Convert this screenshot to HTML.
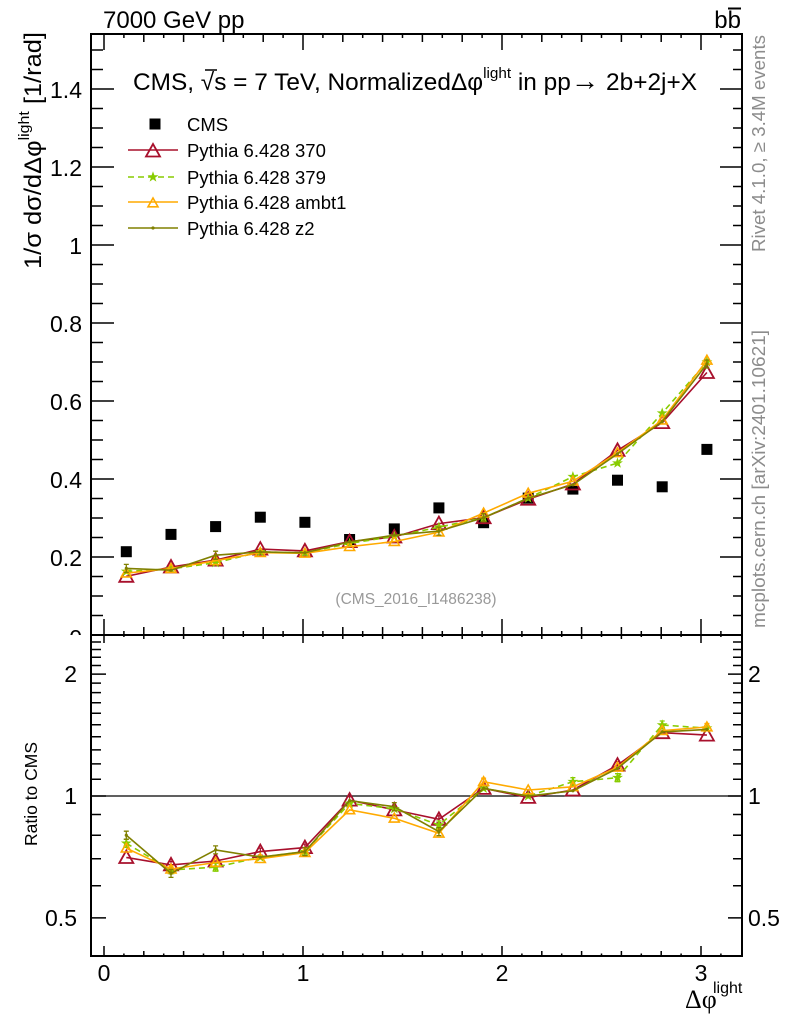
<!DOCTYPE html>
<html><head><meta charset="utf-8"><style>
html,body{margin:0;padding:0;background:#fff;}
svg{display:block;font-family:"Liberation Sans",Arial,sans-serif;}
</style></head><body>
<svg width="786" height="1024" viewBox="0 0 786 1024" xmlns="http://www.w3.org/2000/svg">
<defs>
<clipPath id="cm"><rect x="0" y="0" width="786" height="635"/></clipPath>
<g id="xt" stroke="#000" stroke-width="1.5" fill="none">
<path d="M104 0V-16M303 0V-16M502 0V-16M701 0V-16"/>
<path d="M143.8 0V-8M183.6 0V-8M223.4 0V-8M263.2 0V-8M342.8 0V-8M382.6 0V-8M422.4 0V-8M462.2 0V-8M541.8 0V-8M581.6 0V-8M621.4 0V-8M661.2 0V-8"/>
<path d="M123.9 0V-4M163.7 0V-4M203.5 0V-4M243.3 0V-4M283.1 0V-4M322.9 0V-4M362.7 0V-4M402.5 0V-4M442.3 0V-4M482.1 0V-4M521.9 0V-4M561.7 0V-4M601.5 0V-4M641.3 0V-4M681.1 0V-4M720.9 0V-4"/>
</g>
<path id="rt" d="M-7,5.5L7,5.5L0,-7Z" fill="none" stroke="#a8102c" stroke-width="1.8"/>
<path id="ot" d="M-5,3.8L5,3.8L0,-5Z" fill="none" stroke="#ffaa00" stroke-width="1.6"/>
<path id="gs" d="M0,-4.5L1.06,-1.46L4.28,-1.39L1.71,0.56L2.65,3.64L0,1.8L-2.65,3.64L-1.71,0.56L-4.28,-1.39L-1.06,-1.46Z" fill="#88cc00" stroke="#88cc00" stroke-width="0.8"/>
<circle id="od" r="1.6" fill="#808000"/>
<rect id="sq" x="-5.5" y="-5.5" width="11" height="11" fill="#000"/>
<path id="eg" d="M0,-4V4M-2.5,-4H2.5M-2.5,4H2.5" stroke="#88cc00" stroke-width="1.3" fill="none"/>
<path id="eo" d="M0,-4V4M-2.5,-4H2.5M-2.5,4H2.5" stroke="#808000" stroke-width="1.3" fill="none"/>
<path id="er" d="M0,-3.5V3.5M-2.5,-3.5H2.5M-2.5,3.5H2.5" stroke="#a8102c" stroke-width="1.3" fill="none"/>
<path id="eor" d="M0,-3.5V3.5M-2.5,-3.5H2.5M-2.5,3.5H2.5" stroke="#ffaa00" stroke-width="1.3" fill="none"/>
</defs>

<!-- top labels -->
<text x="103" y="28" font-size="24">7000 GeV pp</text>
<text x="741" y="28" font-size="24" text-anchor="end">bb</text>
<line x1="728" y1="8.5" x2="741" y2="8.5" stroke="#000" stroke-width="2"/>

<!-- y axis label -->
<text transform="translate(41,269) rotate(-90)" font-size="24" textLength="237" lengthAdjust="spacingAndGlyphs">1/σ dσ/dΔφ<tspan dy="-12" font-size="15">light</tspan><tspan dy="12"> [1/rad]</tspan></text>

<!-- right side texts -->
<text transform="translate(765,252) rotate(-90)" font-size="18.5" fill="#8c8c8c" textLength="217" lengthAdjust="spacingAndGlyphs">Rivet 4.1.0, ≥ 3.4M events</text>
<text transform="translate(765,628) rotate(-90)" font-size="18.5" fill="#8c8c8c" textLength="298" lengthAdjust="spacingAndGlyphs">mcplots.cern.ch [arXiv:2401.10621]</text>

<!-- main frame -->
<rect x="91" y="34" width="651" height="601" fill="none" stroke="#000" stroke-width="2"/>
<rect x="91" y="635" width="651" height="321" fill="none" stroke="#000" stroke-width="2"/>

<!-- x ticks -->
<use href="#xt" transform="translate(0,635)"/>
<use href="#xt" transform="translate(0,34) scale(1,-1)"/>
<use href="#xt" transform="translate(0,635) scale(1,-0.5)"/>
<use href="#xt" transform="translate(0,956) scale(1,0.625)"/>

<!-- main y ticks -->
<g stroke="#000" stroke-width="1.5" fill="none">
<path d="M91 635H114M91 557H114M91 479H114M91 401H114M91 323H114M91 245H114M91 167H114M91 89H114"/>
<path d="M91 615.5H103M91 596H103M91 576.5H103M91 537.5H103M91 518H103M91 498.5H103M91 459.5H103M91 440H103M91 420.5H103M91 381.5H103M91 362H103M91 342.5H103M91 303.5H103M91 284H103M91 264.5H103M91 225.5H103M91 206H103M91 186.5H103M91 147.5H103M91 128H103M91 108.5H103M91 69.5H103M91 50H103"/>
<path d="M742 635H720M742 557H720M742 479H720M742 401H720M742 323H720M742 245H720M742 167H720M742 89H720"/>
<path d="M742 615.5H733M742 596H733M742 576.5H733M742 537.5H733M742 518H733M742 498.5H733M742 459.5H733M742 440H733M742 420.5H733M742 381.5H733M742 362H733M742 342.5H733M742 303.5H733M742 284H733M742 264.5H733M742 225.5H733M742 206H733M742 186.5H733M742 147.5H733M742 128H733M742 108.5H733M742 69.5H733M742 50H733"/>
<!-- ratio y ticks -->
<path d="M91 917.9H106M91 796H106M91 674.1H106"/>
<path d="M91 885.8H101M91 858.7H101M91 835.2H101M91 814.5H101M91 779.2H101M91 763.9H101M91 749.9H101M91 736.8H101M91 724.7H101M91 713.3H101M91 702.7H101M91 692.6H101M91 683.1H101M91 665.5H101M91 657.3H101M91 649.5H101M91 642H101"/>
<path d="M742 917.9H728M742 796H728M742 674.1H728"/>
<path d="M742 885.8H733M742 858.7H733M742 835.2H733M742 814.5H733M742 779.2H733M742 763.9H733M742 749.9H733M742 736.8H733M742 724.7H733M742 713.3H733M742 702.7H733M742 692.6H733M742 683.1H733M742 665.5H733M742 657.3H733M742 649.5H733M742 642H733"/>
</g>
<line x1="91" y1="796" x2="742" y2="796" stroke="#000" stroke-width="1.3"/>

<!-- main y labels -->
<g font-size="23" text-anchor="end">
<text x="82" y="98">1.4</text>
<text x="82" y="176">1.2</text>
<text x="82" y="254">1</text>
<text x="82" y="332">0.8</text>
<text x="82" y="410">0.6</text>
<text x="82" y="488">0.4</text>
<text x="82" y="566">0.2</text>
<text x="82" y="646" clip-path="url(#cm)">0</text>
<!-- ratio labels -->
<text x="77" y="682">2</text>
<text x="77" y="804">1</text>
<text x="77" y="926">0.5</text>
</g>
<g font-size="23">
<text x="748" y="682">2</text>
<text x="748" y="804">1</text>
<text x="748" y="926">0.5</text>
</g>
<!-- x labels -->
<g font-size="23" text-anchor="middle">
<text x="104" y="981">0</text>
<text x="303" y="981">1</text>
<text x="502" y="981">2</text>
<text x="701" y="981">3</text>
</g>
<text x="685" y="1008" font-size="26" font-family="Liberation Serif, serif">Δφ</text>
<text x="713" y="993" font-size="16">light</text>

<text transform="translate(37,794) rotate(-90)" font-size="17.5" text-anchor="middle">Ratio to CMS</text>

<!-- title -->
<text x="133" y="90" font-size="24" textLength="564" lengthAdjust="spacingAndGlyphs">CMS, √s = 7 TeV, NormalizedΔφ<tspan dy="-12" font-size="15">light</tspan><tspan dy="12"> in pp</tspan><tspan font-size="28">→</tspan><tspan>  2b+2j+X</tspan></text>
<line x1="205" y1="70" x2="217" y2="70" stroke="#000" stroke-width="1.5"/>

<text x="416" y="604" font-size="15.5" fill="#999" text-anchor="middle">(CMS_2016_I1486238)</text>

<!-- legend -->
<use href="#sq" x="155" y="124"/>
<text x="187" y="131" font-size="18.5">CMS</text>
<line x1="128" y1="150" x2="178" y2="150" stroke="#a8102c" stroke-width="1.6"/>
<use href="#rt" x="153" y="151"/>
<text x="187" y="157" font-size="18.5">Pythia 6.428 370</text>
<line x1="128" y1="177" x2="178" y2="177" stroke="#88cc00" stroke-width="1.6" stroke-dasharray="6,4"/>
<use href="#gs" x="153" y="177"/>
<text x="187" y="184" font-size="18.5">Pythia 6.428 379</text>
<line x1="128" y1="202" x2="178" y2="202" stroke="#ffaa00" stroke-width="1.6"/>
<use href="#ot" x="153" y="203"/>
<text x="187" y="209" font-size="18.5">Pythia 6.428 ambt1</text>
<line x1="128" y1="228" x2="178" y2="228" stroke="#808000" stroke-width="1.6"/>
<use href="#od" x="153" y="228"/>
<text x="187" y="235" font-size="18.5">Pythia 6.428 z2</text>

<!-- CMS data -->
<g>
<use href="#sq" x="126.3" y="551.7"/><use href="#sq" x="171" y="534.4"/><use href="#sq" x="215.6" y="526.6"/><use href="#sq" x="260.3" y="517.2"/><use href="#sq" x="304.9" y="522.3"/><use href="#sq" x="349.6" y="539.5"/><use href="#sq" x="394.3" y="528.9"/><use href="#sq" x="438.9" y="507.9"/><use href="#sq" x="483.6" y="522.7"/><use href="#sq" x="528.2" y="498.1"/><use href="#sq" x="572.9" y="489.1"/><use href="#sq" x="617.5" y="480.2"/><use href="#sq" x="662.2" y="486.8"/><use href="#sq" x="706.9" y="449.4"/>
</g>

<!-- MAIN: red 370 -->
<polyline fill="none" stroke="#a8102c" stroke-width="1.6" points="126.3,576.3 171,567 215.6,560.1 260.3,549.1 304.9,550.9 349.6,541.6 394.3,537 438.9,523.6 483.6,517.7 528.2,499.2 572.9,484 617.5,450.4 662.2,422.6 706.9,372.5"/>
<use href="#rt" x="126.3" y="576.3"/><use href="#rt" x="171" y="567"/><use href="#rt" x="215.6" y="560.1"/><use href="#rt" x="260.3" y="549.1"/><use href="#rt" x="304.9" y="550.9"/><use href="#rt" x="349.6" y="541.6"/><use href="#rt" x="394.3" y="537"/><use href="#rt" x="438.9" y="523.6"/><use href="#rt" x="483.6" y="517.7"/><use href="#rt" x="528.2" y="499.2"/><use href="#rt" x="572.9" y="484"/><use href="#rt" x="617.5" y="450.4"/><use href="#rt" x="662.2" y="422.6"/><use href="#rt" x="706.9" y="372.5"/>
<!-- green 379 -->
<polyline fill="none" stroke="#88cc00" stroke-width="1.6" stroke-dasharray="6,4" points="126.3,571.4 171,568.9 215.6,562.7 260.3,551.9 304.9,552.8 349.6,543.4 394.3,536.3 438.9,527.2 483.6,517.7 528.2,498.1 572.9,476.7 617.5,463.1 662.2,413.1 706.9,362.1"/>
<use href="#gs" x="126.3" y="571.4"/><use href="#gs" x="171" y="568.9"/><use href="#gs" x="215.6" y="562.7"/><use href="#gs" x="260.3" y="551.9"/><use href="#gs" x="304.9" y="552.8"/><use href="#gs" x="349.6" y="543.4"/><use href="#gs" x="394.3" y="536.3"/><use href="#gs" x="438.9" y="527.2"/><use href="#gs" x="483.6" y="517.7"/><use href="#gs" x="528.2" y="498.1"/><use href="#gs" x="572.9" y="476.7"/><use href="#gs" x="617.5" y="463.1"/><use href="#gs" x="662.2" y="413.1"/><use href="#gs" x="706.9" y="362.1"/>
<!-- orange ambt1 -->
<polyline fill="none" stroke="#ffaa00" stroke-width="1.6" points="126.3,573.1 171,568.6 215.6,560.7 260.3,552.6 304.9,553.3 349.6,546.7 394.3,541.6 438.9,532.1 483.6,513.1 528.2,493.3 572.9,481.3 617.5,452.8 662.2,420.1 706.9,360.3"/>
<use href="#ot" x="126.3" y="573.1"/><use href="#ot" x="171" y="568.6"/><use href="#ot" x="215.6" y="560.7"/><use href="#ot" x="260.3" y="552.6"/><use href="#ot" x="304.9" y="553.3"/><use href="#ot" x="349.6" y="546.7"/><use href="#ot" x="394.3" y="541.6"/><use href="#ot" x="438.9" y="532.1"/><use href="#ot" x="483.6" y="513.1"/><use href="#ot" x="528.2" y="493.3"/><use href="#ot" x="572.9" y="481.3"/><use href="#ot" x="617.5" y="452.8"/><use href="#ot" x="662.2" y="420.1"/><use href="#ot" x="706.9" y="360.3"/>
<!-- olive z2 -->
<polyline fill="none" stroke="#808000" stroke-width="1.6" points="126.3,568.4 171,570.2 215.6,555.2 260.3,551.9 304.9,552.8 349.6,541.9 394.3,535.2 438.9,531.1 483.6,517.7 528.2,498.1 572.9,484.8 617.5,453.8 662.2,421.6 706.9,364"/>
<use href="#eo" x="126.3" y="568.4"/><use href="#eo" x="215.6" y="555.2"/><use href="#eo" x="438.9" y="531.1"/><use href="#eo" x="483.6" y="517.7"/><use href="#eo" x="706.9" y="364"/>
<use href="#od" x="126.3" y="568.4"/><use href="#od" x="171" y="570.2"/><use href="#od" x="215.6" y="555.2"/><use href="#od" x="260.3" y="551.9"/><use href="#od" x="304.9" y="552.8"/><use href="#od" x="349.6" y="541.9"/><use href="#od" x="394.3" y="535.2"/><use href="#od" x="438.9" y="531.1"/><use href="#od" x="483.6" y="517.7"/><use href="#od" x="528.2" y="498.1"/><use href="#od" x="572.9" y="484.8"/><use href="#od" x="617.5" y="453.8"/><use href="#od" x="662.2" y="421.6"/><use href="#od" x="706.9" y="364"/>

<!-- RATIO: red -->
<polyline fill="none" stroke="#a8102c" stroke-width="1.6" points="126.3,857.5 171,864.9 215.6,861 260.3,851.6 304.9,847.6 349.6,800.1 394.3,809.9 438.9,819.3 483.6,788.4 528.2,797.4 572.9,790 617.5,765.1 662.2,732.7 706.9,735.1"/>
<use href="#er" x="171" y="864.9"/><use href="#er" x="260.3" y="851.6"/><use href="#er" x="304.9" y="847.6"/><use href="#er" x="349.6" y="800.1"/><use href="#er" x="438.9" y="819.3"/><use href="#er" x="617.5" y="765.1"/>
<use href="#rt" x="126.3" y="857.5"/><use href="#rt" x="171" y="864.9"/><use href="#rt" x="215.6" y="861"/><use href="#rt" x="260.3" y="851.6"/><use href="#rt" x="304.9" y="847.6"/><use href="#rt" x="349.6" y="800.1"/><use href="#rt" x="394.3" y="809.9"/><use href="#rt" x="438.9" y="819.3"/><use href="#rt" x="483.6" y="788.4"/><use href="#rt" x="528.2" y="797.4"/><use href="#rt" x="572.9" y="790"/><use href="#rt" x="617.5" y="765.1"/><use href="#rt" x="662.2" y="732.7"/><use href="#rt" x="706.9" y="735.1"/>
<!-- green -->
<polyline fill="none" stroke="#88cc00" stroke-width="1.6" stroke-dasharray="6,4" points="126.3,843.3 171,869.9 215.6,867.2 260.3,857.2 304.9,851.6 349.6,803.4 394.3,808.8 438.9,825 483.6,788.4 528.2,796 572.9,781.7 617.5,777.7 662.2,725 706.9,728.2"/>
<use href="#eg" x="126.3" y="843.3"/><use href="#eg" x="171" y="869.9"/><use href="#eg" x="215.6" y="867.2"/><use href="#eg" x="438.9" y="825"/><use href="#eg" x="572.9" y="781.7"/><use href="#eg" x="617.5" y="777.7"/><use href="#eg" x="662.2" y="725"/>
<use href="#gs" x="126.3" y="843.3"/><use href="#gs" x="171" y="869.9"/><use href="#gs" x="215.6" y="867.2"/><use href="#gs" x="260.3" y="857.2"/><use href="#gs" x="304.9" y="851.6"/><use href="#gs" x="349.6" y="803.4"/><use href="#gs" x="394.3" y="808.8"/><use href="#gs" x="438.9" y="825"/><use href="#gs" x="483.6" y="788.4"/><use href="#gs" x="528.2" y="796"/><use href="#gs" x="572.9" y="781.7"/><use href="#gs" x="617.5" y="777.7"/><use href="#gs" x="662.2" y="725"/><use href="#gs" x="706.9" y="728.2"/>
<!-- orange -->
<polyline fill="none" stroke="#ffaa00" stroke-width="1.6" points="126.3,848.2 171,869.1 215.6,862.5 260.3,858.7 304.9,852.6 349.6,809.9 394.3,818.3 438.9,833.3 483.6,781.7 528.2,790 572.9,786.8 617.5,767.3 662.2,730.6 706.9,727"/>
<use href="#eor" x="483.6" y="781.7"/><use href="#eor" x="706.9" y="727"/><use href="#eor" x="171" y="869.1"/>
<use href="#ot" x="126.3" y="848.2"/><use href="#ot" x="171" y="869.1"/><use href="#ot" x="215.6" y="862.5"/><use href="#ot" x="260.3" y="858.7"/><use href="#ot" x="304.9" y="852.6"/><use href="#ot" x="349.6" y="809.9"/><use href="#ot" x="394.3" y="818.3"/><use href="#ot" x="438.9" y="833.3"/><use href="#ot" x="483.6" y="781.7"/><use href="#ot" x="528.2" y="790"/><use href="#ot" x="572.9" y="786.8"/><use href="#ot" x="617.5" y="767.3"/><use href="#ot" x="662.2" y="730.6"/><use href="#ot" x="706.9" y="727"/>
<!-- olive -->
<polyline fill="none" stroke="#808000" stroke-width="1.6" points="126.3,835.2 171,873.4 215.6,849.9 260.3,857.2 304.9,851.6 349.6,800.6 394.3,806.7 438.9,831.6 483.6,788.4 528.2,796 572.9,790.8 617.5,768.4 662.2,731.9 706.9,729.4"/>
<use href="#eo" x="126.3" y="835.2"/><use href="#eo" x="171" y="873.4"/><use href="#eo" x="215.6" y="849.9"/><use href="#eo" x="394.3" y="806.7"/><use href="#eo" x="438.9" y="831.6"/><use href="#eo" x="304.9" y="851.6"/>
<use href="#od" x="126.3" y="835.2"/><use href="#od" x="171" y="873.4"/><use href="#od" x="215.6" y="849.9"/><use href="#od" x="260.3" y="857.2"/><use href="#od" x="304.9" y="851.6"/><use href="#od" x="349.6" y="800.6"/><use href="#od" x="394.3" y="806.7"/><use href="#od" x="438.9" y="831.6"/><use href="#od" x="483.6" y="788.4"/><use href="#od" x="528.2" y="796"/><use href="#od" x="572.9" y="790.8"/><use href="#od" x="617.5" y="768.4"/><use href="#od" x="662.2" y="731.9"/><use href="#od" x="706.9" y="729.4"/>
</svg>
</body></html>
